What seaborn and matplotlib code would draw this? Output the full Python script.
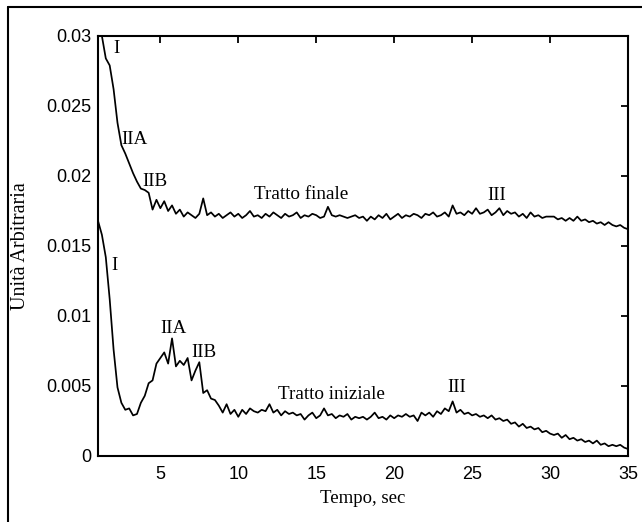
import numpy as np
import pandas as pd
import matplotlib
matplotlib.use("Agg")
import matplotlib.pyplot as plt
import seaborn as sns
from matplotlib.lines import Line2D

# ---- data ----
time = np.arange(1.0, 35.001, 0.25)

finale = [
    0.0318, 0.0300, 0.0284, 0.0279,
    0.0262, 0.0238, 0.0222, 0.0216,
    0.0209, 0.0202, 0.0196, 0.0191,
    0.0190, 0.0188, 0.0176, 0.0183,
    0.0177, 0.0182, 0.0175, 0.0179,
    0.0173, 0.0176, 0.0171, 0.0174,
    0.0172, 0.0170, 0.0173, 0.0184,
    0.0172, 0.0174, 0.0171, 0.0173,
    0.0170, 0.0172, 0.0174, 0.0171,
    0.0173, 0.0170, 0.0172, 0.0175,
    0.0171, 0.0172, 0.0170, 0.0173,
    0.0171, 0.0174, 0.0172, 0.0170,
    0.0173, 0.0171, 0.0172, 0.0174,
    0.0170, 0.0172, 0.0171, 0.0173,
    0.0172, 0.0170, 0.0171, 0.0178,
    0.0172, 0.0171, 0.0172, 0.0171,
    0.0170, 0.0171, 0.0172, 0.0170,
    0.0171, 0.0168, 0.0171, 0.0169,
    0.0172, 0.0170, 0.0173, 0.0169,
    0.0171, 0.0173, 0.0170, 0.0172,
    0.0171, 0.0173, 0.0172, 0.0170,
    0.0173, 0.0172, 0.0174, 0.0171,
    0.0172, 0.0174, 0.0171, 0.0179,
    0.0173, 0.0174, 0.0172, 0.0175,
    0.0173, 0.0177, 0.0173, 0.0174,
    0.0176, 0.0172, 0.0174, 0.0177,
    0.0172, 0.0175, 0.0173, 0.0174,
    0.0171, 0.0173, 0.0170, 0.0174,
    0.0171, 0.0172, 0.0170, 0.0171,
    0.0171, 0.0171, 0.0169, 0.0170,
    0.0168, 0.0170, 0.0168, 0.0171,
    0.0168, 0.0169, 0.0167, 0.0168,
    0.0166, 0.0167, 0.0165, 0.0167,
    0.0165, 0.0164, 0.0165, 0.0163,
    0.0162,
]

iniziale = [
    0.0168, 0.0158, 0.0142, 0.0112,
    0.0076, 0.0049, 0.0038, 0.0033,
    0.0034, 0.0029, 0.0030, 0.0038,
    0.0043, 0.0052, 0.0054, 0.0066,
    0.0070, 0.0074, 0.0066, 0.0084,
    0.0064, 0.0068, 0.0065, 0.0070,
    0.0054, 0.0061, 0.0067, 0.0045,
    0.0047, 0.0041, 0.0040, 0.0036,
    0.0031, 0.0037, 0.0030, 0.0033,
    0.0028, 0.0033, 0.0030, 0.0034,
    0.0032, 0.0031, 0.0033, 0.0032,
    0.0037, 0.0031, 0.0033, 0.0029,
    0.0032, 0.0030, 0.0031, 0.0029,
    0.0030, 0.0026, 0.0029, 0.0031,
    0.0027, 0.0029, 0.0034, 0.0029,
    0.0030, 0.0027, 0.0029, 0.0028,
    0.0030, 0.0026, 0.0028, 0.0027,
    0.0028, 0.0026, 0.0028, 0.0031,
    0.0027, 0.0028, 0.0026, 0.0029,
    0.0027, 0.0029, 0.0028, 0.0030,
    0.0028, 0.0029, 0.0025, 0.0031,
    0.0029, 0.0031, 0.0028, 0.0032,
    0.0030, 0.0034, 0.0032, 0.0039,
    0.0031, 0.0033, 0.0030, 0.0031,
    0.0029, 0.0030, 0.0028, 0.0029,
    0.0027, 0.0029, 0.0026, 0.0027,
    0.0025, 0.0026, 0.0023, 0.0024,
    0.0021, 0.0023, 0.0020, 0.0021,
    0.0019, 0.0020, 0.0017, 0.0018,
    0.0016, 0.0015, 0.0016, 0.0013,
    0.0015, 0.0012, 0.0013, 0.0011,
    0.0012, 0.0010, 0.0011, 0.0009,
    0.0011, 0.0008, 0.0009, 0.0007,
    0.0008, 0.0007, 0.0008, 0.0006,
    0.0005,
]

x_ticks = [5, 10, 15, 20, 25, 30, 35]
y_ticks = [0, 0.005, 0.01, 0.015, 0.02, 0.025, 0.03]
y_tick_labels = ["0", "0.005", "0.01", "0.015", "0.02", "0.025", "0.03"]

# annotations: (text, x, y)
labels_text = ["I", "IIA", "IIB", "Tratto finale", "III",
               "I", "IIA", "IIB", "Tratto iniziale", "III"]
labels_x = [2.18, 3.33, 4.68, 14.04, 26.55, 2.05, 5.83, 7.82, 15.96, 24.04]
labels_y = [0.0291, 0.0226, 0.0196, 0.0187, 0.0186,
            0.0136, 0.0091, 0.0074, 0.0044, 0.0049]

# ---- figure ----
sns.set_style("white")
plt.rcParams['font.family'] = ['Liberation Serif', 'DejaVu Serif']

fig = plt.figure(figsize=(6.42, 5.22), dpi=100)
ax = fig.add_axes([98 / 642, 1 - 456 / 522, 530 / 642, 420 / 522])

n = len(time)
df = pd.DataFrame({
    "Tempo": np.concatenate([time, time]),
    "valore": finale + iniziale,
    "serie": ["finale"] * n + ["iniziale"] * n,
})
sns.lineplot(data=df, x="Tempo", y="valore", hue="serie",
             palette=["black", "black"], linewidth=1.25, legend=False, ax=ax)

ax.set_xlim(1, 35)
ax.set_ylim(0, 0.03)
ax.set_xticks(x_ticks)
ax.set_xticklabels([str(v) for v in x_ticks], family="Liberation Sans", fontsize=13)
ax.set_yticks(y_ticks)
ax.set_yticklabels(y_tick_labels, family="Liberation Sans", fontsize=13)
ax.tick_params(direction="in", top=True, right=True, length=5, width=1.3,
               color="black", labelcolor="black")
ax.tick_params(axis="x", pad=7)
ax.tick_params(axis="y", pad=5)
for sp in ax.spines.values():
    sp.set_visible(True)
    sp.set_color("black")
    sp.set_linewidth(1.5)

ax.set_xlabel("Tempo, sec", fontsize=13.5, color="black")
ax.set_ylabel("Unità Arbitraria", fontsize=14.5, color="black")
ax.xaxis.set_label_coords(0.5, -(490 - 456) / 420)
ax.yaxis.set_label_coords(-(98 - 30) / 530, 0.5)

for s, xv, yv in zip(labels_text, labels_x, labels_y):
    ax.text(xv, yv, s, ha="center", va="center", fontsize=13.8, color="black")

# outer frame of the scanned figure (left and top edges)
fig.add_artist(Line2D([8 / 642, 8 / 642], [0, 1 - 7 / 522],
                      transform=fig.transFigure, color="black", lw=1.5))
fig.add_artist(Line2D([8 / 642, 1], [1 - 7 / 522, 1 - 7 / 522],
                      transform=fig.transFigure, color="black", lw=1.5))

fig.savefig("out.png", dpi=100)
